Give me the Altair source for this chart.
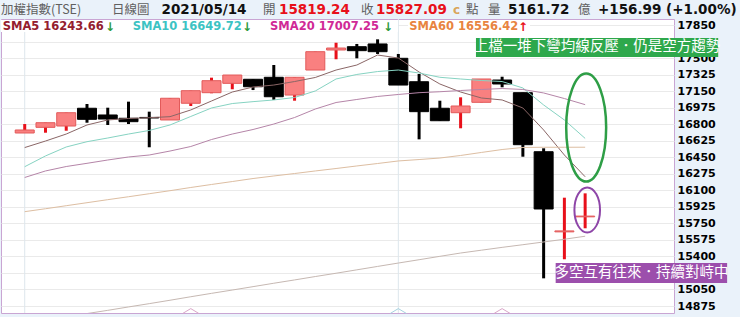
import altair as alt
import pandas as pd

# ---------------- data ----------------
dates = ["04/07", "04/08", "04/09", "04/12", "04/13", "04/14", "04/15", "04/16", "04/19", "04/20",
         "04/21", "04/22", "04/23", "04/26", "04/27", "04/28", "04/29", "04/30", "05/03", "05/04",
         "05/05", "05/06", "05/07", "05/10", "05/11", "05/12", "05/13", "05/14"]
opens = [16707, 16767, 16781, 16969, 16898, 16863, 16872, 16845, 17022, 17134,
         17233, 17276, 17297, 17109, 17374, 17586, 17621, 17650, 17498, 17250,
         16969, 16922, 17032, 17268, 17134, 16509, 15660, 15819.24]
closes = [16739, 16816, 16922, 16852, 16855, 16827, 16866, 17075, 17155, 17261,
          17321, 17197, 17091, 17297, 17568, 17607, 17579, 17568, 17215, 16933,
          16837, 16993, 17279, 17226, 16583.13, 15902.37, 15670.10, 15827.09]
highs = [16802, 16816, 16922, 17014, 16975, 17039, 16933, 17075, 17155, 17293,
         17321, 17276, 17427, 17297, 17568, 17663, 17650, 17699, 17544, 17332,
         17049, 17085, 17279, 17303, 17134, 16545, 16022, 16068]
lows = [16707, 16710, 16731, 16816, 16792, 16802, 16556, 16845, 16993, 17128,
        17170, 17162, 17057, 17049, 17374, 17488, 17498, 17544, 17215, 16640,
        16837, 16757, 17032, 17191, 16456, 15168, 15370, 15698]

sma5 = [16553, 16622, 16696, 16792, 16845, 16861, 16869, 16880, 16951, 17046,
        17141, 17194, 17215, 17252, 17295, 17374, 17427, 17533, 17501, 17353,
        17226, 17141, 17078, 17057, 16972, 16739, 16474, 16243.66]
sma10 = [16350, 16464, 16559, 16615, 16654, 16696, 16734, 16792, 16882, 16972,
         17019, 17039, 17057, 17083, 17152, 17279, 17327, 17358, 17374, 17342,
         17297, 17279, 17263, 17252, 17184, 17004, 16845, 16649.72]
sma20 = [16236, 16305, 16352, 16386, 16421, 16453, 16474, 16516, 16564, 16638,
         16696, 16744, 16802, 16871, 16961, 17030, 17062, 17094, 17115, 17134,
         17144, 17157, 17168, 17178, 17168, 17131, 17072, 17007.25]
sma60 = [15874, 15905, 15937, 15969, 16001, 16032, 16064, 16096, 16130, 16162,
         16193, 16225, 16252, 16278, 16305, 16331, 16358, 16384, 16411, 16426,
         16442, 16469, 16501, 16532, 16554, 16556, 16556, 16556.42]
ma_long = [14688, 14723, 14759, 14795, 14829, 14865, 14900, 14936, 14973, 15009,
           15044, 15080, 15116, 15151, 15187, 15222, 15258, 15294, 15330, 15365,
           15401, 15436, 15466, 15496, 15524, 15553, 15582, 15614]

y_ticks = [14875, 15050, 15225, 15400, 15575, 15750, 15925, 16100, 16275, 16450,
           16625, 16800, 16975, 17150, 17325, 17500, 17675, 17850]
hidden_labels = [15225, 17675]   # fully covered by the note boxes in the original

ma_names = ["SMA5", "SMA10", "SMA20", "SMA60", "MA_LONG"]
ma_colors = ["#8A6666", "#86D3C2", "#B585A8", "#DDBEA2", "#C6B8B2"]

month_marks = [0, 18]          # vertical grid lines
event_marks_i = [8, 18, 23]    # small markers at the bottom edge
event_colors = ["#D9A6C8", "#A6D2E0", "#D9A6C8"]

ann_text = ["上檔一堆下彎均線反壓．仍是空方趨勢", "多空互有往來．持續對峙中"]
ann_x0 = [21.74, 25.58]
ann_x1 = [33.41, 33.84]
ann_y0 = [17512, 15119]
ann_y1 = [17713, 15330]
ann_fill = ["#2EA84C", "#9C4FAC"]

ell_i = [27.05, 27.1]
ell_v = [16765, 15892]
ell_color = ["#2E9E46", "#8E46A8"]

UP_WICK, DOWN_WICK = "#E8101A", "#000000"
UP_FILL, DOWN_FILL = "#F98080", "#000000"
UP_EDGE, DOWN_EDGE = "#E25A5A", "#000000"

# ---------------- frames ----------------
n = len(opens)
idx = list(range(n))
candles = pd.DataFrame({"i": idx, "date": dates, "open": opens, "close": closes,
                        "high": highs, "low": lows})
up = [c >= o for o, c in zip(opens, closes)]
candles["wick_c"] = [UP_WICK if u else DOWN_WICK for u in up]
candles["fill_c"] = [UP_FILL if u else DOWN_FILL for u in up]
candles["edge_c"] = [UP_EDGE if u else DOWN_EDGE for u in up]
candles["top"] = [max(o, c) for o, c in zip(opens, closes)]
candles["bot"] = [min(o, c) for o, c in zip(opens, closes)]

rows = []
for name, col, series in zip(ma_names, ma_colors, [sma5, sma10, sma20, sma60, ma_long]):
    for i, v in zip(idx, series):
        rows.append({"i": i, "v": v, "ma": name, "c": col})
ma_df = pd.DataFrame(rows)

ann = pd.DataFrame({"t": ann_text, "x0": ann_x0, "x1": ann_x1, "y0": ann_y0, "y1": ann_y1,
                    "fill": ann_fill})
ann["xc"] = (ann["x0"] + ann["x1"]) / 2
ann["yc"] = (ann["y0"] + ann["y1"]) / 2

# ---------------- scales / helpers ----------------
xs = alt.Scale(domain=[-0.9018, 31.04], nice=False, zero=False)
ys = alt.Scale(domain=[14800.9, 17914.3], nice=False, zero=False)
hide_expr = " || ".join(f"datum.value == {h}" for h in hidden_labels)
yaxis = alt.Axis(orient="right", values=y_ticks, format="d", labelFont="DejaVu Sans",
                 labelFontSize=11, labelFontWeight="bold", labelColor="#000000",
                 labelPadding=3, ticks=False, domain=False, grid=True, gridColor="#EAEAEA",
                 gridWidth=1, title=None, labelOverlap=False, zindex=0,
                 labelExpr=f"({hide_expr}) ? '' : datum.label")


def X(f):
    return alt.X(f, scale=xs, axis=None)


def Y(f):
    return alt.Y(f, scale=ys, axis=yaxis)


def txt(s, px, py, color, size, weight="normal", font="DejaVu Sans"):
    return alt.Chart(pd.DataFrame({"t": [s]})).mark_text(
        align="left", baseline="middle", font=font, fontSize=size, fontWeight=weight,
        color=color).encode(x=alt.value(px), y=alt.value(py), text="t:N")


vgrid = alt.Chart(pd.DataFrame({"i": month_marks})).mark_rule(
    color="#DDE6EC", strokeWidth=1).encode(x=X("i:Q"))

white_row = alt.Chart(pd.DataFrame({"a": [0, 407], "b": [397, 529]})).mark_rect(
    color="white").encode(x=alt.X("a:Q", scale=None, axis=None), x2="b:Q",
                          y=alt.value(1), y2=alt.value(13))

wicks = alt.Chart(candles).mark_rule(strokeWidth=3).encode(
    x=X("i:Q"), y=Y("low:Q"), y2="high:Q", color=alt.Color("wick_c:N", scale=None))

bodies = alt.Chart(candles).mark_bar(size=19, strokeWidth=1).encode(
    x=X("i:Q"), y=Y("bot:Q"), y2="top:Q",
    fill=alt.Fill("fill_c:N", scale=None), stroke=alt.Stroke("edge_c:N", scale=None))

lines = alt.Chart(ma_df).mark_line(strokeWidth=1, clip=True).encode(
    x=X("i:Q"), y=Y("v:Q"), stroke=alt.Stroke("c:N", scale=None), detail="ma:N")

green_path = ("M0,-1C0.204,-1,0.370,-0.552,0.370,0C0.370,0.552,0.204,1,0,1"
              "C-0.204,1,-0.370,0.552,-0.370,0C-0.370,-0.552,-0.204,-1,0,-1Z")
purple_path = ("M0,-1C0.314,-1,0.569,-0.552,0.569,0C0.569,0.552,0.314,1,0,1"
               "C-0.314,1,-0.569,0.552,-0.569,0C-0.569,-0.552,-0.314,-1,0,-1Z")
ell_g = alt.Chart(pd.DataFrame({"i": [ell_i[0]], "v": [ell_v[0]]})).mark_point(
    shape=green_path, size=11664, filled=False, color=ell_color[0], strokeWidth=2.5,
    opacity=1).encode(x=X("i:Q"), y=Y("v:Q"))
ell_p = alt.Chart(pd.DataFrame({"i": [ell_i[1]], "v": [ell_v[1]]})).mark_point(
    shape=purple_path, size=2025, filled=False, color=ell_color[1], strokeWidth=2,
    opacity=1).encode(x=X("i:Q"), y=Y("v:Q"))

ev = pd.DataFrame({"i": event_marks_i, "v": [14822] * len(event_marks_i), "c": event_colors})
events = alt.Chart(ev).mark_point(shape="M-1,0.3L0,-0.3L1,0.3", size=256, filled=False,
                                  strokeWidth=1, opacity=1).encode(
    x=X("i:Q"), y=Y("v:Q"), stroke=alt.Stroke("c:N", scale=None))

boxes = alt.Chart(ann).mark_rect().encode(
    x=X("x0:Q"), x2="x1:Q", y=Y("y0:Q"), y2="y1:Q", fill=alt.Fill("fill:N", scale=None))
box_text = alt.Chart(ann).mark_text(font="Noto Sans CJK TC", fontSize=14.5, color="white",
                                    baseline="middle", align="center").encode(
    x=X("xc:Q"), y=Y("yc:Q"), text="t:N")

# ---------------- header texts (pixel layout) ----------------
HY = -9.5
CJK = "Noto Sans CJK TC"
grey = "#606060"
header = [
    txt("加權指數(TSE)", 0, HY, grey, 12.5, font=CJK),
    txt("日線圖", 111, HY, grey, 12.5, font=CJK),
    txt("2021/05/14", 160.5, HY, "#111111", 13.5, "bold"),
    txt("開", 262, HY, grey, 12.5, font=CJK),
    txt("15819.24", 278, HY, "#E8101A", 13.5, "bold"),
    txt("收", 360, HY, grey, 12.5, font=CJK),
    txt("15827.09", 375, HY, "#E8101A", 13.5, "bold"),
    txt("c", 452, HY, "#D9A55A", 12, "bold"),
    txt("點", 465, HY, grey, 12.5, font=CJK),
    txt("量", 487, HY, grey, 12.5, font=CJK),
    txt("5161.72", 507, HY, "#111111", 13.5, "bold"),
    txt("億", 577, HY, grey, 12.5, font=CJK),
    txt("+156.99 (+1.00%)", 597, HY, "#111111", 13.5, "bold"),
]
SY = 7.5
sma_row = [
    txt("SMA5 16243.66", 1.7, SY, "#94202E", 11.5, "bold"),
    txt("↓", 104, SY, "#2E9A3A", 12, "bold"),
    txt("SMA10 16649.72", 131.7, SY, "#3CC3C3", 11.5, "bold"),
    txt("↓", 241, SY, "#2E9A3A", 12, "bold"),
    txt("SMA20 17007.25", 269, SY, "#D02A96", 11.5, "bold"),
    txt("↓", 382, SY, "#2E9A3A", 12, "bold"),
    txt("SMA60 16556.42", 408.3, SY, "#E88440", 11.5, "bold"),
    txt("↑", 517, SY, "#E8101A", 12, "bold"),
]

chart = alt.layer(
    vgrid, white_row, wicks, bodies, lines, events, ell_g, ell_p, boxes, box_text,
    *header, *sma_row
).properties(
    width=673, height=294,
    autosize=alt.AutoSizeParams(type="none"),
    padding={"left": 1, "top": 19, "right": 66, "bottom": 4},
).configure(background="#EAF2FA").configure_view(
    fill="white", stroke="#C9A5D3", strokeWidth=1)

chart.save("out.html", embed_options={"renderer": "svg", "actions": False})
